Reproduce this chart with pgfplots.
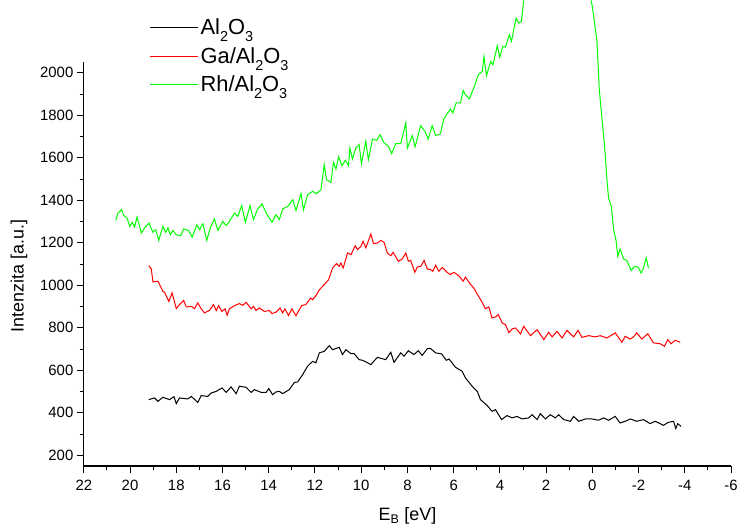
\documentclass[border=0pt]{standalone}
\usepackage{pgfplots}
\pgfplotsset{compat=1.18}
\usepackage{fontspec}
\setmainfont{Liberation Sans}
\definecolor{ogreen}{RGB}{0,255,0}
\definecolor{ored}{RGB}{255,0,0}
\newcommand\lsub[1]{\raisebox{-7bp}{\fontsize{14.5}{14.5}\selectfont #1}}
\begin{document}
\begin{tikzpicture}
\begin{axis}[
 scale only axis, width=648.7bp, height=404.7bp,
 xmin=-6, xmax=22, x dir=reverse, ymin=150, ymax=2050,
 axis x line*=bottom, axis y line*=left,
 xtick={-6,-4,...,22}, ytick={200,400,...,2000},
 minor x tick num=1, minor y tick num=1,
 tick align=outside, major tick length=7bp, minor tick length=4bp,
 every tick/.style={black, line width=1bp},
 axis line style={line width=1.3bp},
 ticklabel style={font=\fontsize{15}{17}\selectfont},
 xticklabel style={yshift=-4bp},
 /pgf/number format/assume math mode=true,
 /pgf/number format/1000 sep={},
 xlabel={E\textsubscript{B} [eV]}, ylabel={Intenzita [a.u.]},
 label style={font=\fontsize{18}{20}\selectfont},
 xlabel style={at={(axis description cs:0.5,-0.124)}, anchor=center},
 ylabel style={at={(axis description cs:-0.1,0.47)}, anchor=center},
 clip=false, unbounded coords=jump,
 legend style={draw=none, fill=none, at={(axis description cs:0.097,1.117)}, anchor=north west,
   font=\fontsize{22}{24}\selectfont, row sep=7bp},
 legend cell align=left,
 legend image code/.code={\draw[#1] (0bp,0bp) -- (48bp,0bp);},
]
\addplot[black, line width=1bp] table {
19.19 462
18.94 470
18.79 454
18.58 473
18.29 462
18.10 476
18.00 443
17.86 470
17.50 465
17.35 477
17.07 449
16.92 481
16.64 477
16.49 493
16.27 501
16.02 517
15.84 496
15.63 522
15.41 490
15.27 525
14.98 520
14.76 496
14.62 509
14.33 496
14.11 496
14.00 514
13.83 485
13.69 498
13.54 501
13.40 490
13.11 509
12.89 543
12.75 545
12.53 580
12.32 619
12.10 642
11.96 635
11.81 682
11.60 689
11.38 716
11.24 697
10.95 708
10.81 674
10.66 697
10.44 678
10.30 678
10.09 650
9.94 647
9.58 627
9.30 661
8.94 650
8.72 685
8.58 637
8.29 682
8.15 666
7.96 692
7.72 674
7.53 692
7.36 670
7.14 702
7.00 702
6.78 682
6.52 677
6.32 647
6.20 653
5.92 614
5.63 595
5.49 564
5.20 525
4.98 501
4.84 462
4.55 434
4.34 407
4.19 415
3.93 368
3.69 387
3.47 376
3.26 383
3.04 371
2.75 376
2.61 391
2.39 368
2.25 396
2.03 371
1.82 391
1.60 376
1.46 391
1.24 368
0.95 360
0.81 383
0.59 360
0.30 371
0.02 371
-0.27 365
-0.49 376
-0.70 365
-0.99 383
-1.20 352
-1.42 360
-1.64 371
-1.92 360
-2.21 368
-2.50 349
-2.72 360
-3.07 341
-3.29 355
-3.51 360
-3.61 326
-3.69 349
-3.84 336
};
\addlegendentry{Al\lsub{2}O\lsub{3}}
\addplot[ored, line width=1bp] table {
19.19 1092
19.08 1077
19.01 1016
18.79 1019
18.58 971
18.51 967
18.32 924
18.18 964
18.00 890
17.86 909
17.68 929
17.57 898
17.35 901
17.21 890
17.07 917
16.92 889
16.78 870
16.56 882
16.39 909
16.27 881
16.17 904
16.03 877
15.89 889
15.80 859
15.70 890
15.48 904
15.27 914
15.12 906
14.98 920
14.76 889
14.66 901
14.55 882
14.40 893
14.19 877
13.97 881
13.86 867
13.69 873
13.51 893
13.40 870
13.30 889
13.14 857
13.00 889
12.82 857
12.58 904
12.40 909
12.18 940
12.10 932
11.93 956
11.81 979
11.60 1003
11.41 1026
11.24 1081
11.07 1102
10.95 1089
10.88 1105
10.78 1081
10.59 1152
10.44 1144
10.26 1186
10.16 1168
10.01 1183
9.92 1207
9.80 1176
9.58 1241
9.47 1196
9.30 1199
9.15 1211
9.01 1202
8.87 1152
8.72 1139
8.62 1155
8.39 1113
8.22 1124
8.07 1152
7.96 1113
7.86 1117
7.68 1061
7.57 1086
7.42 1089
7.28 1117
7.14 1077
7.00 1074
6.90 1066
6.78 1094
6.64 1066
6.49 1084
6.28 1061
6.14 1050
5.99 1061
5.78 1045
5.59 1019
5.49 1039
5.32 1011
5.13 987
4.92 948
4.77 920
4.63 890
4.48 898
4.34 846
4.19 851
4.07 862
3.90 823
3.76 815
3.61 777
3.47 795
3.32 799
3.11 771
2.97 807
2.68 763
2.39 791
2.10 744
1.89 779
1.74 757
1.53 783
1.31 752
1.10 788
0.81 757
0.62 788
0.45 755
0.16 763
-0.13 757
-0.34 763
-0.63 752
-0.99 776
-1.28 732
-1.42 760
-1.64 747
-1.78 757
-1.92 776
-2.14 747
-2.40 772
-2.64 729
-2.93 725
-3.12 713
-3.26 744
-3.41 725
-3.58 741
-3.80 732
};
\addlegendentry{Ga/Al\lsub{2}O\lsub{3}}
\addplot[ogreen, line width=1bp] table {
20.62 1305
20.52 1340
20.37 1356
20.27 1328
20.13 1317
20.01 1277
19.90 1296
19.80 1274
19.70 1321
19.51 1246
19.37 1270
19.18 1293
19.01 1249
18.89 1262
18.76 1211
18.58 1277
18.46 1249
18.36 1270
18.26 1238
18.15 1258
18.00 1238
17.81 1233
17.68 1265
17.47 1258
17.31 1227
17.11 1285
16.99 1262
16.85 1290
16.68 1211
16.53 1270
16.35 1312
16.20 1258
15.99 1301
15.84 1281
15.73 1296
15.48 1340
15.34 1324
15.17 1375
15.01 1296
14.81 1375
14.66 1309
14.48 1359
14.29 1383
14.11 1340
13.86 1296
13.69 1332
13.54 1309
13.40 1359
13.18 1371
12.96 1403
12.82 1352
12.60 1432
12.50 1354
12.32 1426
12.10 1442
11.93 1431
11.74 1450
11.60 1567
11.50 1497
11.31 1484
11.20 1578
11.09 1547
10.98 1604
10.83 1563
10.69 1588
10.55 1563
10.49 1646
10.38 1594
10.23 1646
10.09 1662
9.99 1572
9.80 1677
9.69 1591
9.51 1688
9.33 1682
9.19 1709
9.01 1670
8.82 1654
8.68 1619
8.51 1666
8.29 1666
8.07 1764
8.00 1646
7.79 1704
7.67 1651
7.43 1751
7.24 1724
7.10 1688
6.93 1751
6.78 1704
6.57 1713
6.43 1782
6.28 1807
6.14 1829
6.04 1811
5.89 1858
5.70 1858
5.59 1917
5.49 1897
5.32 1877
5.13 1928
4.93 1991
4.76 2006
4.69 2077
4.58 1986
4.40 2053
4.30 2038
4.11 2127
4.01 2074
3.87 2124
3.76 2121
3.59 2179
3.50 2148
3.30 2257
3.19 2234
3.07 2242
2.97 2340
1.50 nan
0.05 2340
-0.01 2304
-0.20 2148
-0.30 1920
-0.42 1779
-0.53 1654
-0.63 1497
-0.70 1411
-0.82 1371
-0.92 1262
-1.02 1215
-1.10 1136
-1.20 1171
-1.35 1124
-1.49 1117
-1.68 1070
-1.82 1089
-1.97 1086
-2.11 1058
-2.21 1081
-2.33 1129
-2.43 1081
};
\addlegendentry{Rh/Al\lsub{2}O\lsub{3}}
\path (rel axis cs:-0.1295,-0.1614) rectangle (rel axis cs:1.0128,1.1532);
\end{axis}
\end{tikzpicture}
\end{document}
